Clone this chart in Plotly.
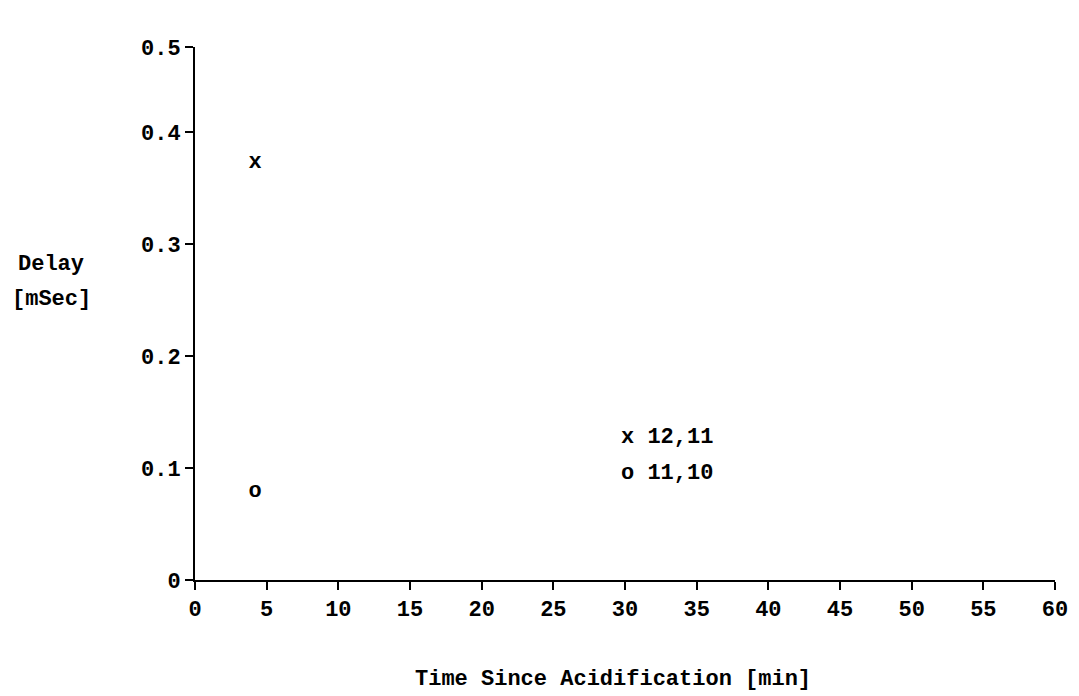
import plotly.graph_objects as go

# data
series_names = ["12,11", "11,10"]
series_symbols = ["x", "o"]
time_min = [[4.2], [4.2]]
delay_msec = [[0.373], [0.079]]

x_ticks = [0, 5, 10, 15, 20, 25, 30, 35, 40, 45, 50, 55, 60]
y_tickvals = [0, 0.1, 0.2, 0.3, 0.4, 0.476]
y_ticktext = ["0", "0.1", "0.2", "0.3", "0.4", "0.5"]

FONT = "Liberation Mono"
FS = 22

fig = go.Figure()
for name, sym, xs, ys in zip(series_names, series_symbols, time_min, delay_msec):
    fig.add_trace(go.Scatter(
        x=xs, y=ys, mode="text", text=[sym] * len(xs), name=name,
        textposition="middle center",
        textfont=dict(family=FONT, size=FS, color="black", weight="bold"),
        showlegend=False, cliponaxis=False, hoverinfo="skip",
    ))

# in-plot key
key_y = [0.1277, 0.0955]
for name, sym, ky in zip(series_names, series_symbols, key_y):
    fig.add_annotation(
        x=29.6, y=ky, xref="x", yref="y", xanchor="left", yanchor="middle",
        text=f"<b>{sym} {name}</b>", showarrow=False,
        font=dict(family=FONT, size=FS, color="black"),
    )

# y axis title (horizontal, two lines)
fig.add_annotation(x=-0.1674, y=0.591, xref="paper", yref="paper",
                   text="<b>Delay</b>", showarrow=False,
                   xanchor="center", yanchor="middle",
                   font=dict(family=FONT, size=FS, color="black"))
fig.add_annotation(x=-0.1674, y=0.527, xref="paper", yref="paper",
                   text="<b>[mSec]</b>", showarrow=False,
                   xanchor="center", yanchor="middle",
                   font=dict(family=FONT, size=FS, color="black"))
# x axis title
fig.add_annotation(x=0.486, y=-0.1876, xref="paper", yref="paper",
                   text="<b>Time Since Acidification [min]</b>", showarrow=False,
                   xanchor="center", yanchor="middle",
                   font=dict(family=FONT, size=FS, color="black"))

fig.update_xaxes(
    range=[0, 60], tickvals=x_ticks, ticks="outside", ticklen=8, tickwidth=2,
    tickcolor="black", showline=True, linecolor="black", linewidth=2,
    showgrid=False, zeroline=False,
    tickfont=dict(family=FONT, size=FS, color="black", weight="bold"),
)
fig.update_yaxes(
    range=[0, 0.476], tickvals=y_tickvals, ticktext=y_ticktext,
    ticks="outside", ticklen=8, tickwidth=2, tickcolor="black",
    showline=True, linecolor="black", linewidth=2,
    showgrid=False, zeroline=False,
    tickfont=dict(family=FONT, size=FS, color="black", weight="bold"),
)
fig.update_layout(
    width=1079, height=696,
    margin=dict(l=195, r=24, t=47, b=116),
    plot_bgcolor="white", paper_bgcolor="white",
    showlegend=False,
)
# remove the default page margin so the figure sits at the window's corner
fig.write_html(
    "out.html",
    config={"displayModeBar": False},
    post_script="document.body.style.margin='0';"
                "document.documentElement.style.overflow='hidden';",
)
